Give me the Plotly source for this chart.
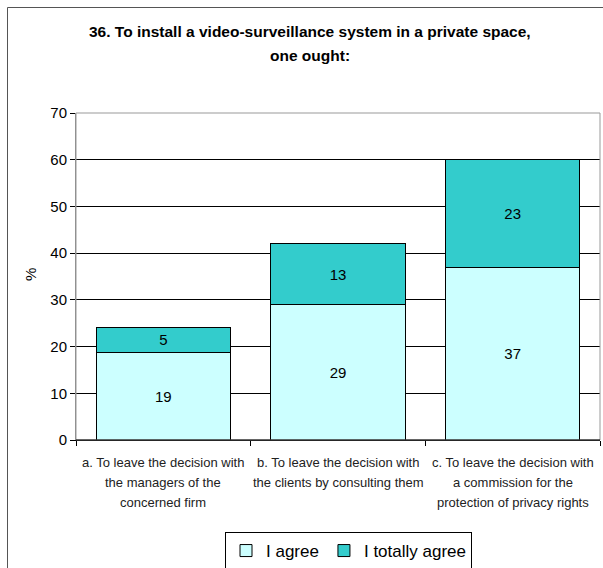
import plotly.graph_objects as go

category_lines = [
    ["a. To leave the decision with", "the managers of the", "concerned firm"],
    ["b. To leave the decision with", "the clients by consulting them"],
    ["c. To leave the decision with", "a commission for the", "protection of privacy rights"],
]
categories = ["<br>".join(c) for c in category_lines]
agree = [18.8, 29.0, 37.0]
totally_agree = [5.3, 13.0, 23.0]
series_names = ["I agree", "I totally agree"]
y_ticks = [0, 10, 20, 30, 40, 50, 60, 70]
title_lines = ["36. To install a video-surveillance system in a private space,", "one ought:"]

FONT = "Liberation Sans, Arial, sans-serif"

fig = go.Figure()
fig.add_trace(go.Bar(
    x=categories, y=agree, name=series_names[0],
    marker=dict(color="#CCFFFF", line=dict(color="black", width=1)),
    texttemplate="%{y:.0f}", textposition="inside", insidetextanchor="middle",
    textfont=dict(color="black", size=15, family=FONT), textangle=0,
))
fig.add_trace(go.Bar(
    x=categories, y=totally_agree, name=series_names[1],
    marker=dict(color="#33CCCC", line=dict(color="black", width=1)),
    texttemplate="%{y:.0f}", textposition="inside", insidetextanchor="middle",
    textfont=dict(color="black", size=15, family=FONT), textangle=0,
))

W, H = 603, 568
L, R, T, B = 76, 3, 113, 128
pw, ph = W - L - R, H - T - B

def px(x):
    return (x - L) / pw

def py(y):
    return (H - B - y) / ph

annotations = [
    dict(text="<b>" + title_lines[0] + "</b>",
         x=px(310), y=py(32), xref="paper", yref="paper", showarrow=False,
         xanchor="center", yanchor="middle", font=dict(size=15.5, family=FONT)),
    dict(text="<b>" + title_lines[1] + "</b>",
         x=px(310), y=py(56), xref="paper", yref="paper", showarrow=False,
         xanchor="center", yanchor="middle", font=dict(size=15.5, family=FONT)),
    dict(text="%", x=px(30), y=py(275), xref="paper", yref="paper", showarrow=False,
         textangle=-90, xanchor="center", yanchor="middle", font=dict(size=15, family=FONT)),
]
for cat, lines in zip(categories, category_lines):
    for i, line in enumerate(lines):
        annotations.append(dict(
            text=line, x=cat, xref="x", y=py(462 + 20 * i), yref="paper",
            showarrow=False, xanchor="center", yanchor="middle",
            font=dict(size=13, family=FONT, color="#222"),
        ))

fig.update_layout(
    width=W, height=H, autosize=False,
    margin=dict(l=L, r=R, t=T, b=B, pad=0, autoexpand=False),
    barmode="stack", bargap=0.23,
    plot_bgcolor="white", paper_bgcolor="white",
    font=dict(family=FONT, color="black", size=12),
    showlegend=True,
    uniformtext=dict(minsize=8, mode="show"),
    legend=dict(
        orientation="h", x=px(348.5), xanchor="center", y=py(532), yanchor="top",
        bordercolor="black", borderwidth=1, bgcolor="white",
        font=dict(size=17, family=FONT), traceorder="normal",
        itemwidth=30,
    ),
    xaxis=dict(
        type="category", showgrid=False, showline=True, linecolor="black", linewidth=1,
        ticks="outside", ticklen=5, tickcolor="black", tickson="boundaries",
        showticklabels=False, automargin=False,
    ),
    yaxis=dict(
        range=[0, 70], tickvals=y_ticks, showgrid=True, gridcolor="black", gridwidth=1,
        showline=True, linecolor="#888", linewidth=1, automargin=False,
        ticks="outside", ticklen=5, tickcolor="black",
        tickfont=dict(size=15, family=FONT), zeroline=False,
    ),
    annotations=annotations,
    shapes=[
        dict(type="rect", xref="paper", yref="paper", x0=0, x1=1, y0=0, y1=1,
             line=dict(color="#999", width=1), layer="above"),
        dict(type="line", xref="paper", yref="paper", x0=0, x1=1, y0=0, y1=0,
             line=dict(color="black", width=1), layer="above"),
        dict(type="rect", xref="paper", yref="paper", x0=px(7.5), x1=px(610), y0=py(7.5), y1=py(600),
             line=dict(color="#555", width=1), layer="above"),
    ],
)

fig.write_html("out.html", config={"displayModeBar": False},
               post_script="document.body.style.margin='0';")
